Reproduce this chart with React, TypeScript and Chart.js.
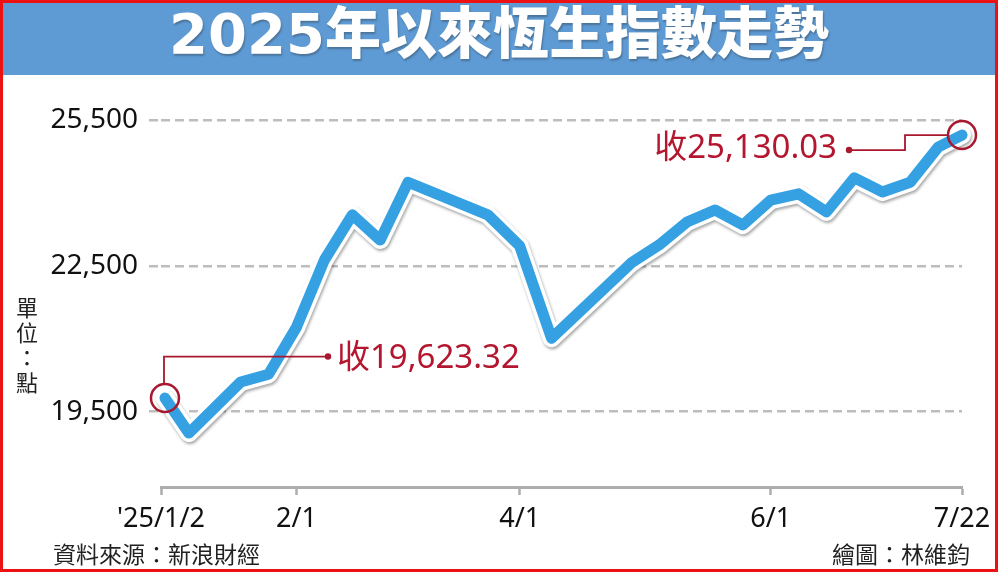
import React, { useEffect, useRef } from "react";
import { Chart, registerables } from "chart.js";

Chart.register(...registerables);

// ---------- data ----------
const TITLE = "2025年以來恆生指數走勢";
// days since 2025/1/2 for each plotted close
const DAYS = [1, 7, 20, 27, 34, 41, 48, 55, 62, 82, 90, 98, 118, 125, 132, 139, 146, 153, 160, 167, 174, 181, 188, 195, 201];
const CLOSES = [19780, 19060, 20110, 20270, 21240, 22620, 23550, 23030, 24220, 23550, 22910, 21010, 22560, 22930, 23400, 23650, 23340, 23850, 23980, 23610, 24310, 24020, 24220, 24940, 25190];
const X_TICK_DAYS = [0, 34, 90, 153, 201];
const X_TICK_LABELS = ["'25/1/2", "2/1", "4/1", "6/1", "7/22"];
const Y_TICKS = [19500, 22500, 25500];
const Y_MIN = 17950;
const Y_MAX = 25500;
const X_MAX = 201;
const START_LABEL = "收19,623.32";
const END_LABEL = "收25,130.03";
const SOURCE = "資料來源：新浪財經";
const CREDIT = "繪圖：林維鈞";
const UNIT_CHARS = ["單", "位", "：", "點"];

// ---------- styles ----------
const BLUE = "#35a1e2";
const MARK_RED = "#a8182e";
const TEXT_RED = "#b3162e";
const CJK = "'Noto Sans CJK TC', 'Noto Sans', sans-serif";
const NUM = "'Noto Sans', 'Noto Sans CJK TC', sans-serif";

const outlineShadow = {
  id: "outlineShadow",
  beforeDatasetDraw(chart: any, args: any) {
    if (args.index !== 1) return;
    const ctx = chart.ctx;
    ctx.save();
    ctx.shadowColor = "rgba(0,0,0,0.35)";
    ctx.shadowBlur = 3;
    ctx.shadowOffsetX = 1;
    ctx.shadowOffsetY = 2;
  },
  afterDatasetDraw(chart: any, args: any) {
    if (args.index !== 1) return;
    chart.ctx.restore();
  },
};

const closeMarks = {
  id: "closeMarks",
  afterDatasetsDraw(chart: any) {
    const meta = chart.getDatasetMeta(0);
    const first = meta.data[0];
    const last = meta.data[meta.data.length - 1];
    const ctx = chart.ctx;
    const R = 14;
    ctx.save();
    ctx.strokeStyle = MARK_RED;
    ctx.fillStyle = MARK_RED;
    ctx.lineWidth = 2.5;
    for (const p of [first, last]) {
      ctx.beginPath();
      ctx.arc(p.x, p.y, R, 0, Math.PI * 2);
      ctx.stroke();
    }
    ctx.lineWidth = 1.8;
    // start leader
    const sy = first.y - 41.5;
    const sx = first.x + 163;
    ctx.beginPath();
    ctx.moveTo(first.x - 1, first.y - R);
    ctx.lineTo(first.x - 1, sy);
    ctx.lineTo(sx, sy);
    ctx.stroke();
    ctx.beginPath();
    ctx.arc(sx, sy, 3.2, 0, Math.PI * 2);
    ctx.fill();
    // end leader
    const ex = last.x - 113;
    const ey = last.y + 15;
    const kx = last.x - 57;
    ctx.beginPath();
    ctx.moveTo(last.x - R, last.y);
    ctx.lineTo(kx, last.y);
    ctx.lineTo(kx, ey);
    ctx.lineTo(ex, ey);
    ctx.stroke();
    ctx.beginPath();
    ctx.arc(ex, ey, 3.2, 0, Math.PI * 2);
    ctx.fill();
    // labels
    ctx.fillStyle = TEXT_RED;
    ctx.font = `33px ${NUM}`;
    ctx.textBaseline = "middle";
    ctx.textAlign = "left";
    ctx.fillText(START_LABEL, first.x + 172, first.y - 39);
    ctx.textAlign = "right";
    ctx.fillText(END_LABEL, last.x - 125, last.y + 14);
    ctx.restore();
  },
};

export default function App() {
  const ref = useRef<HTMLCanvasElement | null>(null);

  useEffect(() => {
    const canvas = ref.current;
    if (!canvas) return;
    const points = DAYS.map((d, i) => ({ x: d, y: CLOSES[i] }));
    const chart = new Chart(canvas, {
      type: "line",
      data: {
        datasets: [
          {
            data: points,
            borderColor: BLUE,
            borderWidth: 11,
            pointRadius: 0,
            borderJoinStyle: "round",
            borderCapStyle: "round",
            tension: 0,
            clip: false,
          },
          {
            data: points,
            borderColor: "#ffffff",
            borderWidth: 18,
            pointRadius: 0,
            borderJoinStyle: "round",
            borderCapStyle: "round",
            tension: 0,
            clip: false,
          },
        ],
      } as any,
      options: {
        responsive: false,
        animation: false,
        devicePixelRatio: 1,
        events: [],
        layout: { padding: { left: 48, right: 38, top: 120, bottom: 25 } },
        plugins: {
          legend: { display: false },
          tooltip: { enabled: false },
          title: { display: false },
        },
        scales: {
          x: {
            type: "linear",
            min: 0,
            max: X_MAX,
            afterBuildTicks: (s: any) => {
              s.ticks = X_TICK_DAYS.map((v) => ({ value: v }));
            },
            afterFit: (s: any) => {
              s.height = 60;
            },
            ticks: {
              autoSkip: false,
              maxRotation: 0,
              padding: 8,
              color: "#111",
              font: { family: NUM, size: 27 },
              callback: (v: any) => {
                const i = X_TICK_DAYS.indexOf(Number(v));
                return i >= 0 ? X_TICK_LABELS[i] : "";
              },
            },
            grid: {
              drawOnChartArea: false,
              drawTicks: true,
              tickLength: 8,
              tickColor: "#adadad",
              tickWidth: 2.5,
            },
            border: { display: true, color: "#adadad", width: 3 },
          },
          y: {
            min: Y_MIN,
            max: Y_MAX,
            afterBuildTicks: (s: any) => {
              s.ticks = Y_TICKS.map((v) => ({ value: v }));
            },
            afterFit: (s: any) => {
              s.width = 113;
            },
            ticks: {
              padding: 11,
              color: "#111",
              font: { family: NUM, size: 28 },
              callback: (v: any) => Number(v).toLocaleString("en-US"),
            },
            grid: {
              color: "#bdbdbd",
              lineWidth: 2.5,
              drawTicks: true,
              tickLength: 12,
              tickBorderDash: [9, 5],
            },
            border: { display: false, dash: [9, 5] },
          },
        },
      } as any,
      plugins: [outlineShadow, closeMarks],
    });
    return () => chart.destroy();
  }, []);

  return (
    <div
      style={{
        position: "absolute",
        left: 0,
        top: 0,
        width: 1000,
        height: 572,
        background: "#fff",
        overflow: "hidden",
        fontFamily: CJK,
      }}
    >
      <canvas
        ref={ref}
        width={1000}
        height={572}
        style={{ position: "absolute", left: 0, top: 0, width: 1000, height: 572 }}
      />
      <div
        style={{
          position: "absolute",
          left: 3,
          top: 3,
          width: 992,
          height: 72,
          background: "#5e9bd5",
        }}
      />
      <div
        style={{
          position: "absolute",
          left: 3,
          top: -2,
          width: 992,
          height: 72,
          lineHeight: "72px",
          textAlign: "center",
          color: "#fff",
          fontFamily: "'DejaVu Sans', 'Noto Sans CJK TC', sans-serif",
          fontWeight: 900,
          fontSize: 56,
          whiteSpace: "nowrap",
          textShadow: "1px 2px 2px rgba(40,40,40,0.35)",
        }}
      >
        {TITLE}
      </div>
      <div style={{ position: "absolute", left: 16, top: 294, width: 22, textAlign: "center" }}>
        {UNIT_CHARS.map((c, i) => (
          <div key={i} style={{ fontSize: 22, lineHeight: "25px", color: "#222" }}>
            {c}
          </div>
        ))}
      </div>
      <div
        style={{
          position: "absolute",
          left: 53,
          top: 542,
          fontSize: 23,
          lineHeight: "23px",
          color: "#222",
          whiteSpace: "nowrap",
        }}
      >
        {SOURCE}
      </div>
      <div
        style={{
          position: "absolute",
          right: 30,
          top: 542,
          fontSize: 23,
          lineHeight: "23px",
          color: "#222",
          whiteSpace: "nowrap",
        }}
      >
        {CREDIT}
      </div>
      <div
        style={{
          position: "absolute",
          left: 0,
          top: 0,
          width: 998,
          height: 572,
          border: "3px solid #ee1111",
          boxSizing: "border-box",
          pointerEvents: "none",
        }}
      />
    </div>
  );
}
